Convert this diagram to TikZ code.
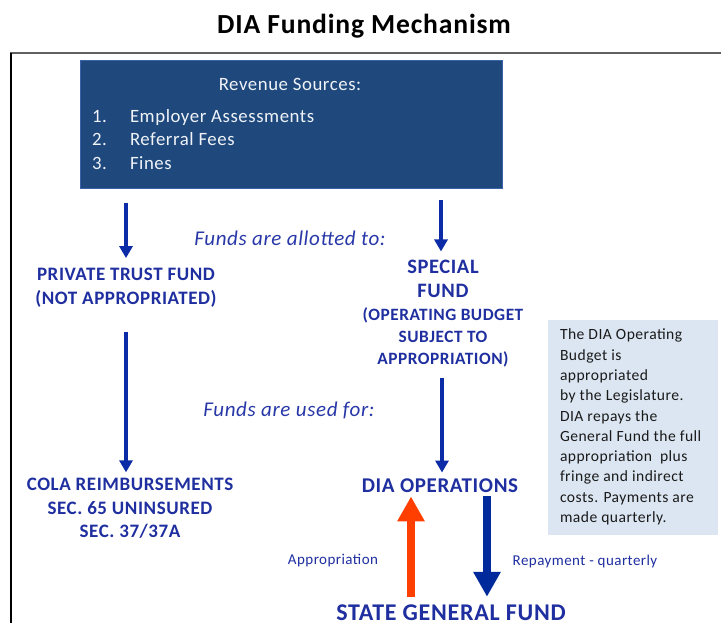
\documentclass[tikz,border=0pt]{standalone}
\usepackage{fontspec}
\setmainfont{Carlito}[LetterSpace=3]
\usetikzlibrary{arrows.meta}
\definecolor{revfill}{HTML}{1F497D}
\definecolor{revedge}{HTML}{3A62A8}
\definecolor{revtxt}{HTML}{F0F3F8}
\definecolor{labblue}{HTML}{1F2FA0}
\definecolor{itblue}{HTML}{2838A8}
\definecolor{arrblue}{HTML}{0B2CA6}
\definecolor{thickblue}{HTML}{002A9C}
\definecolor{apporange}{HTML}{FF3F00}
\definecolor{notefill}{HTML}{DCE6F2}
\definecolor{notetxt}{HTML}{1A1A1A}
\definecolor{framegray}{HTML}{606060}
\begin{document}
\begin{tikzpicture}[x=1pt,y=-1pt,
  every node/.style={inner sep=0pt, outer sep=0pt},
  heading/.style={font=\fontsize{27.6}{32}\selectfont\bfseries, text=black},
  revbox/.style={fill=revfill, draw=revedge, line width=0.8pt, anchor=north west},
  revtext/.style={font=\fontsize{18.8}{22}\selectfont, text=revtxt},
  fundlabel/.style={font=\fontsize{19}{23.5}\selectfont\bfseries, text=labblue, align=center},
  note/.style={font=\fontsize{21}{24}\selectfont\itshape, text=itblue},
  flowlabel/.style={font=\fontsize{15}{18}\selectfont, text=labblue},
  thinarrow/.style={draw=arrblue, line width=3.5pt, -{Triangle[width=13pt,length=12pt]}},
  apparrow/.style={draw=apporange, line width=8pt, -{Triangle[width=26pt,length=25pt]}},
  reparrow/.style={draw=thickblue, line width=8pt, -{Triangle[width=26pt,length=25pt]}},
  notebox/.style={fill=notefill, anchor=north west},
  notetext/.style={font=\fontsize{15.6}{20.3}\selectfont, text=notetxt, align=left, anchor=north west}
]
\useasboundingbox (0,0) rectangle (721,623);
\fill[white] (0,0) rectangle (721,623);

% title and outer frame
\node[heading, anchor=base] (title) at (364,34) {DIA Funding Mechanism};
\draw[framegray, line width=2pt] (10,53) -- (721,53);
\draw[black, line width=1.5pt] (11,53) -- (11,623);

% revenue sources
\node[revbox, minimum width=422pt, minimum height=128pt] (rev) at (80,60) {};
\node[revtext, anchor=base] (revhead) at (290,91) {Revenue Sources:};
\node[revtext, anchor=base west] (n1) at (92,123) {1.};
\node[revtext, anchor=base west] (i1) at (130,123) {Employer Assessments};
\node[revtext, anchor=base west] (n2) at (92,146) {2.};
\node[revtext, anchor=base west] (i2) at (130,146) {Referral Fees};
\node[revtext, anchor=base west] (n3) at (92,170) {3.};
\node[revtext, anchor=base west] (i3) at (130,170) {Fines};

% funds
\node[note, anchor=base] (allot) at (290,245) {Funds are allotted to:};
\node[fundlabel] (ptf) at (126,287.5) {PRIVATE TRUST FUND\\(NOT APPROPRIATED)};
\node[fundlabel, font=\fontsize{17.3}{22}\selectfont\bfseries] (spf) at (443,314)
  {{\fontsize{20.5}{22}\selectfont SPECIAL}\\[2pt]{\fontsize{20.5}{22}\selectfont FUND}\\[1pt](OPERATING BUDGET\\SUBJECT TO\\APPROPRIATION)};

% uses
\node[note, anchor=base] (used) at (289,416) {Funds are used for:};
\node[fundlabel] (cola) at (130,508.5) {COLA REIMBURSEMENTS\\SEC. 65 UNINSURED\\SEC. 37/37A};
\node[fundlabel, font=\fontsize{21}{24}\selectfont\bfseries] (dio) at (440,485.5) {DIA OPERATIONS};
\node[fundlabel, font=\fontsize{24}{28}\selectfont\bfseries, anchor=base] (sgf) at (451,620.5) {STATE GENERAL FUND};

% appropriation and repayment
\node[flowlabel] (applab) at (333,561) {Appropriation};
\node[flowlabel] (replab) at (585,561) {Repayment - quarterly};

% note box
\node[notebox, minimum width=170pt, minimum height=215pt] (nbox) at (548,320) {};
\node[notetext] (ntext) at (560,329) {The DIA Operating\\Budget is\\appropriated\\by the Legislature.\\DIA repays the\\General Fund the full\\appropriation\ \ plus\\fringe and indirect\\costs. Payments are\\made quarterly.};

% connectors
\draw[thinarrow, shorten <=15pt, shorten >=10pt] (rev.south -| ptf.north) -- (ptf.north);
\draw[thinarrow, shorten <=12pt, shorten >=9pt] (rev.south -| 441,0) -- (spf.north -| 441,0);
\draw[thinarrow, shorten <=25pt, shorten >=6pt] (ptf.south) -- (ptf.south |- cola.north);
\draw[thinarrow, shorten <=10pt, shorten >=6pt] (spf.south -| 442,0) -- (dio.north -| 442,0);
\draw[apparrow, shorten <=8pt, shorten >=4pt] ([xshift=-29pt]dio.south |- sgf.north) -- ([xshift=-29pt]dio.south);
\draw[reparrow, shorten <=4pt, shorten >=8pt] ([xshift=47pt]dio.south) -- ([xshift=47pt]dio.south |- sgf.north);
\end{tikzpicture}
\end{document}
